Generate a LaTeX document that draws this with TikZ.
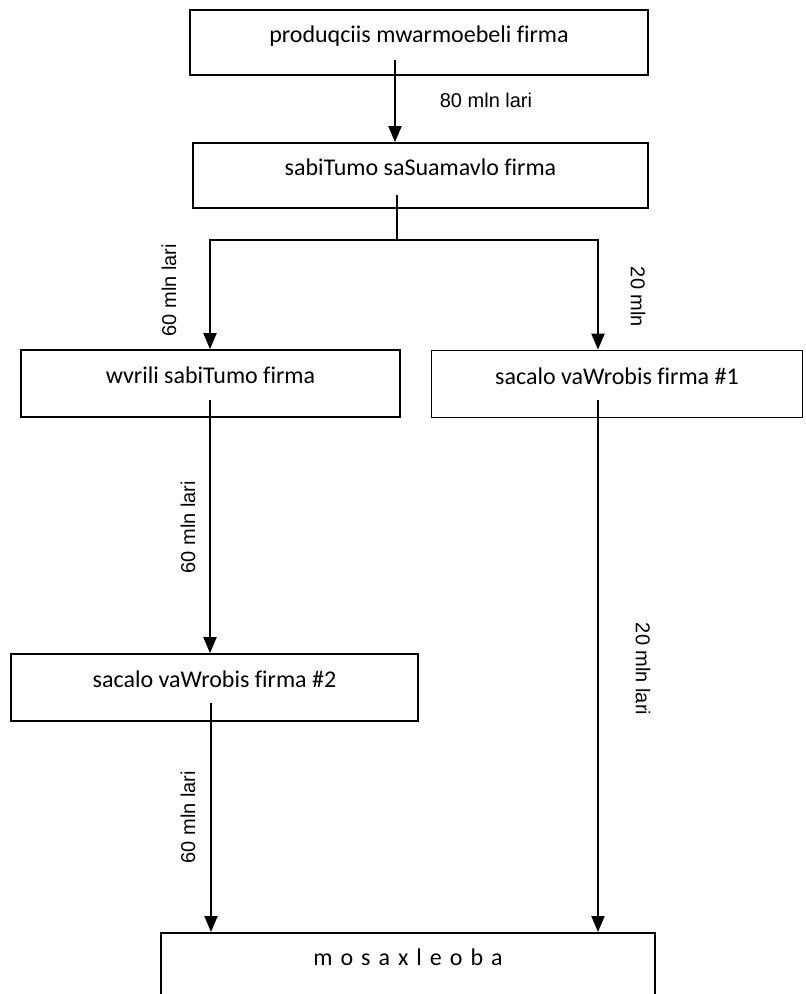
\documentclass[tikz,border=0pt]{standalone}
\usepackage{fontspec}
\setmainfont{Carlito}[Ligatures=CommonOff]
\newfontfamily\arialf{Liberation Sans}
\usetikzlibrary{arrows.meta}
\tikzset{
  boxnode/.style={draw, line width=1.7pt, fill=white, inner sep=0pt,
    text height=16pt, text depth=16pt, font=\fontsize{24}{28}\selectfont},
  lbl/.style={inner sep=0pt, font=\arialf\fontsize{20}{24}\selectfont},
  conn/.style={line width=1.9pt},
  arr/.style={conn, -{Triangle[length=16pt,width=13pt]}}
}
\begin{document}
\begin{tikzpicture}[x=1pt,y=-1pt]
\clip (0,0) rectangle (806,994);
\fill[white] (0,0) rectangle (806,994);

\node[boxnode, minimum width=458pt, minimum height=65pt] (b1) at (419,42.5) {produqciis mwarmoebeli firma};
\node[boxnode, minimum width=455pt, minimum height=65pt] (b2) at (420.5,175.5) {sabiTumo saSuamavlo firma};
\node[boxnode, minimum width=379pt, minimum height=67pt] (b3) at (210.5,383.5) {wvrili sabiTumo firma};
\node[boxnode, minimum width=371pt, minimum height=67pt] (b4) at (617,384) {sacalo vaWrobis firma \#1};
\node[boxnode, minimum width=407pt, minimum height=67pt] (b5) at (214.5,687.5) {sacalo vaWrobis firma \#2};
\node[boxnode, minimum width=494pt, minimum height=80pt, text depth=30pt, anchor=north] (b6) at (408,932) {{\spaceskip=8pt m o s a x l e o b a}};

\coordinate (s1) at (395,60);
\coordinate (s2) at (397,195);
\coordinate (j) at (397,240);
\coordinate (jl) at (210,240);
\coordinate (jr) at (598,240);
\coordinate (s3) at (210,400);
\coordinate (s4) at (598,400);
\coordinate (s5) at (211,703);

\draw[arr] (s1) -- (s1 |- b2.north);
\draw[conn] (s2) -- (j);
\draw[arr] (j) -- (jl) -- (jl |- b3.north);
\draw[arr] (j) -- (jr) -- (jr |- b4.north);
\draw[arr] (s3) -- (s3 |- b5.north);
\draw[arr] (s4) -- (s4 |- b6.north);
\draw[arr] (s5) -- (s5 |- b6.north);

\node[lbl, anchor=base] (l1) at (486,107) {80 mln lari};
\node[lbl, rotate=90] (l2) at (169,290) {60 mln lari};
\node[lbl, rotate=-90] (l3) at (638,297) {20 mln};
\node[lbl, rotate=90] (l4) at (188,527) {60 mln lari};
\node[lbl, rotate=-90] (l5) at (643,669) {20 mln lari};
\node[lbl, rotate=90] (l6) at (188,817) {60 mln lari};
\end{tikzpicture}
\end{document}
